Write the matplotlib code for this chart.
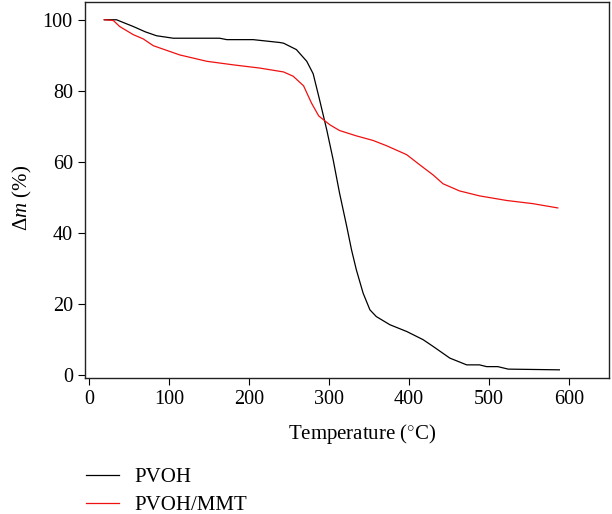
import matplotlib
matplotlib.use('Agg')
import matplotlib.pyplot as plt

plt.rcParams['font.family'] = ['Liberation Serif', 'DejaVu Serif']
plt.rcParams['mathtext.fontset'] = 'custom'
plt.rcParams['mathtext.it'] = 'Liberation Serif:italic'
plt.rcParams['mathtext.rm'] = 'Liberation Serif'

# PVOH curve (temperature in C, mass %)
pvoh_t = [18.75, 34, 45, 55, 70, 84, 105, 163, 172, 205, 238, 243, 259, 272, 280, 288,
          297, 305, 313, 322, 328, 334, 342.5, 351, 359, 376, 397, 417.5, 430,
          451, 472, 488, 497, 511, 524, 588]
pvoh_m = [100, 100, 99, 98.1, 96.6, 95.5, 94.8, 94.8, 94.4, 94.4, 93.6, 93.4, 91.6, 88.3,
          84.8, 77.5, 69, 60.6, 51.2, 41.8, 35.2, 29.6, 23, 18.3, 16.4, 14.1,
          12.2, 9.9, 8, 4.7, 2.8, 2.8, 2.3, 2.3, 1.6, 1.4]

# PVOH/MMT curve
mmt_t = [18.75, 30, 38, 55, 67.5, 80, 113, 147, 180, 213, 243, 255, 268, 278,
         287, 301, 313, 334, 355, 372, 397, 413, 430, 442.5, 463, 488, 522,
         555, 586]
mmt_m = [100, 99.8, 98.1, 95.8, 94.6, 92.7, 90.1, 88.3, 87.3, 86.4, 85.3, 84.1,
         81.4, 76.5, 72.9, 70.4, 68.8, 67.3, 66, 64.5, 62, 59.2, 56.3, 53.8,
         51.8, 50.4, 49.1, 48.2, 47]

fig = plt.figure(figsize=(6.12, 5.14), dpi=100)
ax = fig.add_axes([0.1394, 0.2646, 0.8556, 0.7315])

l1, = ax.plot(pvoh_t, pvoh_m, color='black', lw=0.9)
l2, = ax.plot(mmt_t, mmt_m, color='#f01010', lw=0.9)

ax.set_xlim(-5, 650)
ax.set_ylim(-0.9, 105)
ax.set_xticks([0, 100, 200, 300, 400, 500, 600])
ax.set_yticks([0, 20, 40, 60, 80, 100])
ax.tick_params(direction='out', length=5, width=0.8, labelsize=14.5, pad=4)
for s in ax.spines.values():
    s.set_linewidth(1.0)
    s.set_color('#222222')

ax.set_xlabel('Temperature ($^{\\circ}$C)', fontsize=15)
ax.xaxis.set_label_coords(0.53, -0.118)
ax.set_ylabel('$\\Delta m$ (%)', fontsize=15)
ax.yaxis.set_label_coords(-0.098, 0.48)

fig.legend([l1, l2], ['PVOH', 'PVOH/MMT'], loc='upper left',
           bbox_to_anchor=(0.14, 0.09), frameon=False, fontsize=15,
           handlelength=1.6, handletextpad=0.75, labelspacing=0.38,
           borderaxespad=0, borderpad=0)

fig.savefig('out.png', dpi=100)
